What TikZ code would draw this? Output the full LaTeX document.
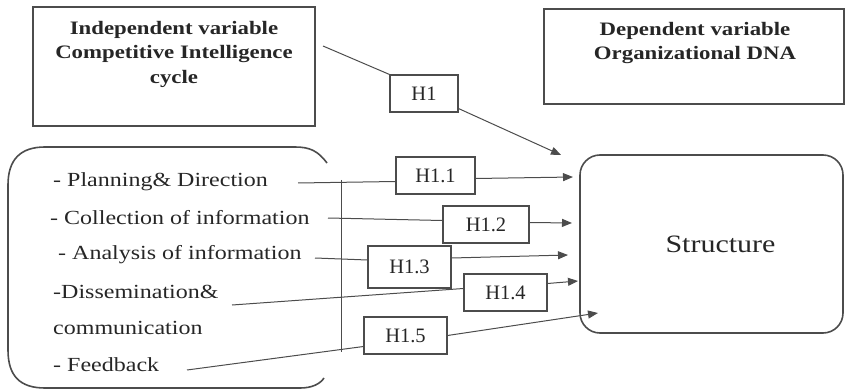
\documentclass[tikz,border=0pt]{standalone}
\usepackage{fontspec}
\setmainfont{Liberation Serif}
\newfontfamily\widefont[FakeStretch=1.2]{Liberation Serif}
\usetikzlibrary{arrows.meta,calc}
\definecolor{ink}{gray}{0.15}
\definecolor{linec}{gray}{0.3}
\tikzset{
  bigbox/.style={draw=linec,line width=1.6pt,inner sep=0pt},
  hbox/.style={draw=linec,line width=1.1pt,inner sep=0pt,minimum height=37pt,text=ink,font=\fontsize{20.5}{22}\selectfont},
  head/.style={text=ink,align=center,font=\widefont\bfseries\fontsize{19}{24.5}\selectfont},
  item/.style={text=ink,anchor=west,inner sep=0pt,font=\widefont\fontsize{20}{22}\selectfont},
  conn/.style={draw=linec,line width=1pt},
  arr/.style={conn,-{Triangle[length=10pt,width=8pt]}},
}
\begin{document}
\begin{tikzpicture}[x=1pt,y=-1pt]
\useasboundingbox (0,0) rectangle (845,390);
% header boxes
\node[bigbox,minimum width=282pt,minimum height=119pt] (ind) at (174,66.5) {};
\node[head] (indtext) at (174,54) {Independent variable\\Competitive Intelligence\\cycle};
\node[bigbox,minimum width=300pt,minimum height=95pt] (dep) at (694,56.5) {};
\node[head] (deptext) at (695,43) {Dependent variable\\Organizational DNA};
% structure box
\node[bigbox,rounded corners=20pt,minimum width=263pt,minimum height=178pt,text=ink,font=\widefont\fontsize{25}{28}\selectfont] (str) at (711.5,244) {\raisebox{-3pt}{\hspace*{18pt}Structure}};
% left bracket box
\draw[draw=linec,line width=1.6pt] (327,163) .. controls (318,151) and (310,147) .. (295,147) -- (45,147) .. controls (20,147) and (8,160) .. (8,185) -- (8,350) .. controls (8,376) and (20,388) .. (45,388) -- (300,388) .. controls (312,388) and (320,384) .. (324,378);
% items
\node[item] (pd) at (53,182) {- Planning\& Direction};
\node[item] (co) at (50,218) {- Collection of information};
\node[item] (an) at (58,255) {- Analysis of information};
\node[item] (di) at (53,292) {-Dissemination\&};
\node[item] (cm) at (53,328) {communication};
\node[item] (fb) at (53,365) {- Feedback};
% vertical line
\coordinate (vtop) at (341,180);
\coordinate (vbot) at (341,352);
\draw[conn] (vtop) -- (vbot);
% H boxes
\node[hbox,minimum width=68pt] (h1) at (424,93.5) {H1};
\node[hbox,minimum width=79pt] (h11) at (435.5,175.5) {H1.1};
\node[hbox,minimum width=86pt] (h12) at (486,224.5) {H1.2};
\node[hbox,minimum width=83pt,minimum height=42pt] (h13) at (409.5,267) {H1.3};
\node[hbox,minimum width=83pt] (h14) at (505.5,292.5) {H1.4};
\node[hbox,minimum width=83pt] (h15) at (405.5,335.5) {H1.5};
% line starts
\coordinate (s0) at (323,46);
\coordinate (s1) at (298,183);
\coordinate (s2) at (328,218);
\coordinate (s3) at (315,258);
\coordinate (s4) at (232,305);
\coordinate (s5) at (187,370);
% arrow tips
\coordinate (t0) at (561,155);
\coordinate (t1) at (573,177);
\coordinate (t2) at (572,223);
\coordinate (t3) at (568,255);
\coordinate (t4) at (578,281);
\coordinate (t5) at (598,313);
% connectors
\draw[conn] (s0) -- (h1.north west);
\draw[arr] ($(h1.south east)+(0,-4)$) -- (t0);
\draw[conn] (s1) -- ($(h11.west)+(0,6)$);
\draw[arr] ($(h11.east)+(0,3)$) -- (t1);
\draw[conn] (s2) -- ($(h12.west)+(0,-4)$);
\draw[arr] ($(h12.east)+(0,-2)$) -- (t2);
\draw[conn] (s3) -- ($(h13.west)+(0,-7)$);
\draw[arr] ($(h13.east)+(0,-9)$) -- (t3);
\draw[conn] (s4) -- ($(h14.west)+(0,-4)$);
\draw[arr] ($(h14.east)+(0,-9)$) -- (t4);
\draw[conn] (s5) -- ($(h15.west)+(0,11)$);
\draw[arr] (h15.east) -- (t5);
\end{tikzpicture}
\end{document}
